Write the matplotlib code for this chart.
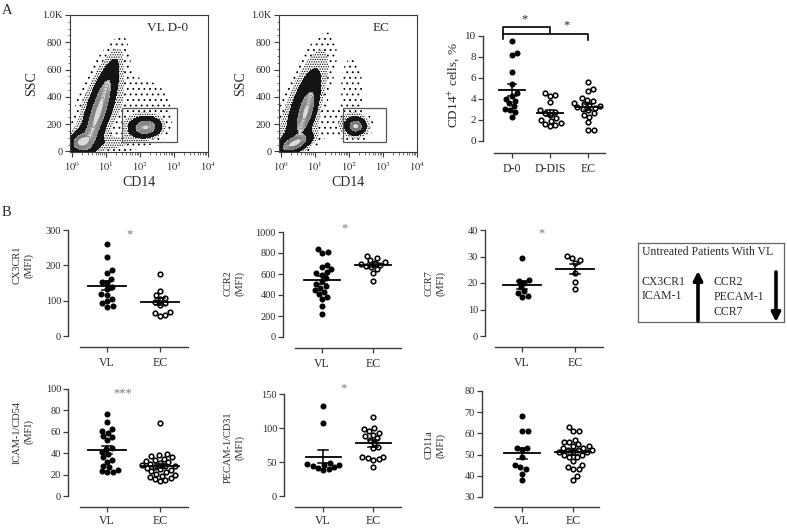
import numpy as np
import matplotlib.pyplot as plt
from matplotlib.patches import Rectangle
from matplotlib.ticker import FixedLocator, MultipleLocator

plt.rcParams['font.family'] = ['Liberation Serif', 'DejaVu Serif']
plt.rcParams['mathtext.fontset'] = 'stix'
plt.rcParams['hatch.linewidth'] = 0.6
plt.rcParams['hatch.color'] = 'black'

# ---- panel A, flow plots: populations
# (log10 CD14, SSC, sd along major [px], sd along minor [px], angle [deg], weight)
vl_pops = [
    (0.28, 70, 5, 4, 30, 1.0),
    (0.30, 72, 10, 7, 30, 0.25),
    (0.78, 285, 24, 4.4, 72, 1.0),
    (0.80, 320, 30, 9, 72, 0.25),
    (2.17, 176, 7, 4.5, 5, 0.9),
    (2.12, 176, 10, 6.5, 5, 0.25),
    (1.74, 330, 30, 22, 0, 0.035),
    (1.00, 60, 18, 5, 0, 0.08),
]
ec_pops = [
    (0.41, 59, 8, 3.2, 23, 1.0),
    (0.41, 62, 12, 6, 23, 0.25),
    (0.74, 287, 14, 4.2, 73, 1.0),
    (0.66, 345, 32, 9, 70, 0.25),
    (2.20, 184, 3.5, 3, 0, 1.0),
    (2.20, 184, 7, 6, 0, 0.35),
    (2.09, 450, 8, 24, 0, 0.035),
    (1.44, 213, 18, 10, 0, 0.035),
]
vl_gate = (30, 1250, 65, 318)
ec_gate = (66, 1250, 65, 318)

# ---- panel A, CD14+ cells %
cd14_d0 = [9.5, 8.4, 8.2, 6.6, 5.4, 4.5, 4.3, 4.0, 3.8, 3.6, 3.0, 2.9, 2.7, 2.3, 3.3]
cd14_ddis = [4.5, 4.4, 4.3, 3.7, 2.9, 2.7, 2.4, 2.2, 2.0, 1.9, 1.7, 1.6, 1.5, 1.4, 2.6]
cd14_ec = [5.6, 4.9, 4.7, 4.1, 3.9, 3.8, 3.6, 3.5, 3.4, 3.3, 3.2, 3.1, 3.0, 2.9, 2.6,
           2.4, 2.3, 1.8, 1.0, 1.0]

# ---- panel B, MFI values
cx3cr1_vl = [259, 223, 187, 178, 162, 154, 150, 140, 132, 118, 116, 106, 100, 92, 85, 83]
cx3cr1_ec = [175, 127, 116, 108, 105, 96, 92, 88, 69, 65, 60, 57]
ccr2_vl = [835, 805, 800, 690, 670, 645, 620, 610, 595, 565, 530, 505, 485, 470, 450,
           430, 410, 380, 365, 300, 215]
ccr2_ec = [775, 755, 730, 715, 705, 700, 690, 680, 665, 650, 610, 530]
ccr7_vl = [29.3, 21.3, 20.8, 20.0, 18.5, 16.8, 16.4, 15.0, 14.8]
ccr7_ec = [30.2, 29.3, 28.7, 27.5, 23.8, 20.5, 17.6]
icam_vl = [77, 69, 63, 61, 59, 56, 55, 52, 45, 44, 41, 39, 36, 34, 32, 28, 27, 24, 23, 22, 22]
icam_ec = [68, 39, 38, 37, 36, 35, 34, 33, 32, 31, 30, 29, 28, 28, 27, 26, 25, 24, 23,
           22, 21, 20, 19, 18, 17, 16, 15, 14]
pecam_vl = [133, 107, 48, 47, 46, 46, 44, 42, 41, 39, 38]
pecam_ec = [116, 100, 98, 96, 93, 90, 88, 85, 83, 78, 72, 70, 58, 57, 56, 54, 53, 43]
cd11a_vl = [68, 61, 61, 53, 53, 52, 49, 45, 44, 43, 41, 38]
cd11a_ec = [63, 61, 61, 57, 56, 56, 55, 54, 54, 53, 53, 52, 52, 52, 51, 51, 51, 50, 50,
            49, 49, 47, 45, 44, 43, 43, 40, 38]

up_markers = ['CX3CR1', 'ICAM-1']
down_markers = ['CCR2', 'PECAM-1', 'CCR7']

W, H = 787, 528
fig = plt.figure(figsize=(W / 100, H / 100), dpi=100)
AX_COL = '#3a3a3a'
TXT_COL = '#2a2a2a'


def px_axes(l, t, r, b):
    return fig.add_axes([l / W, 1 - b / H, (r - l) / W, (b - t) / H])


def lims(p0, v0, p1, v1, lo, hi):
    k = (v1 - v0) / (p1 - p0)
    return v0 + (lo - p0) * k, v0 + (hi - p0) * k


def ftext(x, y, s, **kw):
    kw.setdefault('color', TXT_COL)
    return fig.text(x / W, 1 - y / H, s, **kw)


def swarm(vals, d):
    # beeswarm offsets in pixels; vals already in pixels
    offs = np.zeros(len(vals))
    placed = []
    for i in np.argsort(vals):
        y = vals[i]
        cands = [0.0]
        for xj, yj in placed:
            dy = y - yj
            if abs(dy) < d:
                dx = np.sqrt(d * d - dy * dy)
                cands += [xj + dx, xj - dx]
        cands.sort(key=abs)
        for c in cands:
            if all((c - xj) ** 2 + (y - yj) ** 2 >= d * d - 1e-6 for xj, yj in placed):
                offs[i] = c
                placed.append((c, y))
                break
    return offs


def flow_panel(l, t, r, b, pops, gate, label, lab_xy):
    ax = px_axes(l, t, r, b)
    ax.set_xlim(-0.05, 4.0)
    ax.set_ylim(-5, 1000)
    kx = (r - l) / 4.05
    ky = (b - t) / 1005
    gx = np.linspace(-0.05, 4.0, 500)
    gy = np.linspace(-5, 1000, 500)
    X, Y = np.meshgrid(gx, gy)
    Z = np.zeros_like(X)
    for cx, cy, sa, sb, ang, w in pops:
        u = (X - cx) * kx
        v = (Y - cy) * ky
        th = np.radians(ang)
        a = u * np.cos(th) + v * np.sin(th)
        bb = -u * np.sin(th) + v * np.cos(th)
        Z += w * np.exp(-0.5 * (a * a / sa ** 2 + bb * bb / sb ** 2))
    ax.contourf(X, Y, Z, levels=[0.015, 0.05], colors='none', hatches=['...'])
    ax.contourf(X, Y, Z, levels=[0.05, 0.13], colors='none', hatches=['.......'])
    ax.contourf(X, Y, Z, levels=[0.13, 0.55], colors='#151515')
    ax.contourf(X, Y, Z, levels=[0.55, 20], colors='#dadada')
    ax.contour(X, Y, Z, levels=[0.55, 0.65, 0.75, 0.85, 0.95, 1.05],
               colors='#6a6a6a', linewidths=0.5)
    x0, x1, y0, y1 = gate
    ax.add_patch(Rectangle((np.log10(x0), y0), np.log10(x1) - np.log10(x0), y1 - y0,
                           fill=False, ec='#555555', lw=0.9))
    for s in ax.spines.values():
        s.set_color(AX_COL)
        s.set_linewidth(0.8)
    ax.set_yticks([0, 200, 400, 600, 800, 1000])
    ax.set_yticklabels(['0', '200', '400', '600', '800', '1.0K'])
    ax.yaxis.set_minor_locator(MultipleLocator(50))
    ax.set_xticks([0, 1, 2, 3, 4])
    ax.set_xticklabels(['$10^{%d}$' % k for k in range(5)])
    minors = [d + np.log10(k) for d in range(4) for k in range(2, 10)]
    ax.xaxis.set_minor_locator(FixedLocator(minors))
    ax.tick_params(which='major', length=3.5, width=0.8, color=AX_COL, labelsize=7.5,
                   labelcolor=TXT_COL, pad=2)
    ax.tick_params(which='minor', length=1.8, width=0.5, color=AX_COL)
    ax.set_ylabel('SSC', fontsize=10, color=TXT_COL, labelpad=3)
    ax.set_xlabel('CD14', fontsize=10, color=TXT_COL, labelpad=2)
    ftext(lab_xy[0], lab_xy[1], label, fontsize=9.5, ha='right', va='center')
    return ax


def dot_panel(yax, cats, line_x, base, ycal, ticks, groups, xlabels, d=5.6, ysize=7.5,
              xpad=3.5):
    (p_lo, v_lo), (p_hi, v_hi) = ycal
    l, r, t, b = yax, line_x[1] + 4, p_hi - 14, base
    ax = px_axes(l, t, r, b)
    ax.set_xlim(*lims(cats[0], 0, cats[1], 1, l, r))
    ax.set_ylim(*lims(p_lo, v_lo, p_hi, v_hi, b, t))
    ppx = cats[1] - cats[0]
    ppy = (p_lo - p_hi) / (v_hi - v_lo)
    for i, (vals, filled) in enumerate(groups):
        vals = np.asarray(vals, float)
        off = swarm(vals * ppy, d) / ppx
        if filled:
            ax.scatter(i + off, vals, s=19, c='black', lw=0, zorder=3)
        else:
            ax.scatter(i + off, vals, s=11, facecolors='white', edgecolors='black',
                       linewidths=1.15, zorder=3)
        m = vals.mean()
        se = vals.std(ddof=1) / np.sqrt(len(vals))
        ax.plot([i - 0.35, i + 0.35], [m, m], color='black', lw=1.3, zorder=4)
        ax.plot([i, i], [m - se, m + se], color='black', lw=1.1, zorder=4)
        for e in (m - se, m + se):
            ax.plot([i - 0.1, i + 0.1], [e, e], color='black', lw=1.1, zorder=4)
    for s in ('top', 'right'):
        ax.spines[s].set_visible(False)
    ax.spines['left'].set_bounds(ticks[0], ticks[-1])
    bx = lims(cats[0], 0, cats[1], 1, line_x[0], line_x[1])
    ax.spines['bottom'].set_bounds(*bx)
    for s in ('left', 'bottom'):
        ax.spines[s].set_color(AX_COL)
        ax.spines[s].set_linewidth(1.0)
    ax.set_yticks(ticks)
    ax.set_xticks(range(len(groups)))
    ax.set_xticklabels(xlabels)
    ax.tick_params(axis='y', length=3.5, width=0.9, color=AX_COL, labelsize=ysize,
                   labelcolor=TXT_COL, pad=1.5)
    ax.tick_params(axis='x', length=3.5, width=0.9, color=AX_COL, labelsize=8.5,
                   labelcolor=TXT_COL, pad=xpad)
    return ax


# ---------------- panel A
ftext(2, 10, 'A', fontsize=10.5, va='center', ha='left')
flow_panel(70, 15, 208, 152, vl_pops, vl_gate, 'VL D-0', (188, 28))
flow_panel(279, 15, 417, 152, ec_pops, ec_gate, 'EC', (390, 28))

ax = dot_panel(483, (512, 550), (494, 605), 153, ((140, 0), (30, 10)),
               [0, 2, 4, 6, 8, 10],
               [(cd14_d0, True), (cd14_ddis, False), (cd14_ec, False)],
               ['D-0', 'D-DIS', 'EC'], ysize=8)
ax.set_ylim(ax.get_ylim()[0], 11.9)
ax.plot([-0.25, -0.25, 1.0, 1.0], [10.3, 10.85, 10.85, 10.3], color='black', lw=1.2,
        clip_on=False)
ax.plot([-0.25, -0.25, 2.0, 2.0], [9.75, 10.2, 10.2, 9.6], color='black', lw=1.2,
        clip_on=False)
ftext(525, 19, '*', fontsize=9, ha='center', va='center')
ftext(567, 25, '*', fontsize=9, ha='center', va='center')
ftext(453, 85, 'CD14$^{+}$ cells, %', fontsize=9.5, rotation=90, ha='center', va='center')

# ---------------- panel B
ftext(2, 213, 'B', fontsize=10.5, va='center', ha='left')
dot_panel(68, (107, 160), (80, 188), 347, ((336, 0), (230, 300)), [0, 100, 200, 300],
          [(cx3cr1_vl, True), (cx3cr1_ec, False)], ['VL', 'EC'])
dot_panel(283, (322, 373), (295, 401), 348, ((337, 0), (232, 1000)),
          [0, 200, 400, 600, 800, 1000],
          [(ccr2_vl, True), (ccr2_ec, False)], ['VL', 'EC'])
dot_panel(485, (522, 575), (495, 603), 347, ((336, 0), (230, 40)), [0, 10, 20, 30, 40],
          [(ccr7_vl, True), (ccr7_ec, False)], ['VL', 'EC'])
dot_panel(68, (107, 160), (80, 188), 507, ((496, 0), (389, 100)),
          [0, 20, 40, 60, 80, 100],
          [(icam_vl, True), (icam_ec, False)], ['VL', 'EC'], xpad=2.5)
dot_panel(284, (323, 373), (295, 401), 507, ((496, 0), (394, 150)), [0, 50, 100, 150],
          [(pecam_vl, True), (pecam_ec, False)], ['VL', 'EC'], xpad=2.5)
dot_panel(482, (522, 573), (494, 599), 507, ((497, 30), (391, 80)),
          [30, 40, 50, 60, 70, 80],
          [(cd11a_vl, True), (cd11a_ec, False)], ['VL', 'EC'], xpad=2.5)

ylabels = [(23, 265, 'CX3CR1\n(MFI)'), (234, 283, 'CCR2\n(MFI)'), (435, 283, 'CCR7\n(MFI)'),
           (23, 432, 'ICAM-1/CD54\n(MFI)'), (234, 447, 'PECAM-1/CD31\n(MFI)'),
           (435, 445, 'CD11a\n(MFI)')]
for x, y, s in ylabels:
    ftext(x, y, s, fontsize=7.5, rotation=90, ha='center', va='center', ma='center',
          linespacing=1.2)

for x, y, s in [(130, 234, '*'), (345, 228, '*'), (542, 233, '*'), (123, 393, '***'),
                (344, 388, '*')]:
    ftext(x, y, s, fontsize=9, ha='center', va='center', color='#777777')

# ---------------- summary box
bx = px_axes(638, 243, 784, 322)
bx.set_xlim(638, 784)
bx.set_ylim(322, 243)
bx.set_xticks([])
bx.set_yticks([])
for s in bx.spines.values():
    s.set_color('#666666')
    s.set_linewidth(0.9)
bx.text(642, 252, 'Untreated Patients With VL', fontsize=8.5, color=TXT_COL, va='center')
for k, s in enumerate(up_markers):
    bx.text(642, 282 + 14 * k, s, fontsize=8.5, color=TXT_COL, va='center')
for k, s in enumerate(down_markers):
    bx.text(714, 282 + 15 * k, s, fontsize=8.5, color=TXT_COL, va='center')
bx.annotate('', xy=(698, 271), xytext=(698, 321),
            arrowprops=dict(arrowstyle='-|>', lw=2.6, color='black', mutation_scale=13,
                            shrinkA=0, shrinkB=0))
bx.annotate('', xy=(776, 322), xytext=(776, 272),
            arrowprops=dict(arrowstyle='-|>', lw=2.6, color='black', mutation_scale=13,
                            shrinkA=0, shrinkB=0))

fig.savefig('out.png', dpi=100, facecolor='white')
